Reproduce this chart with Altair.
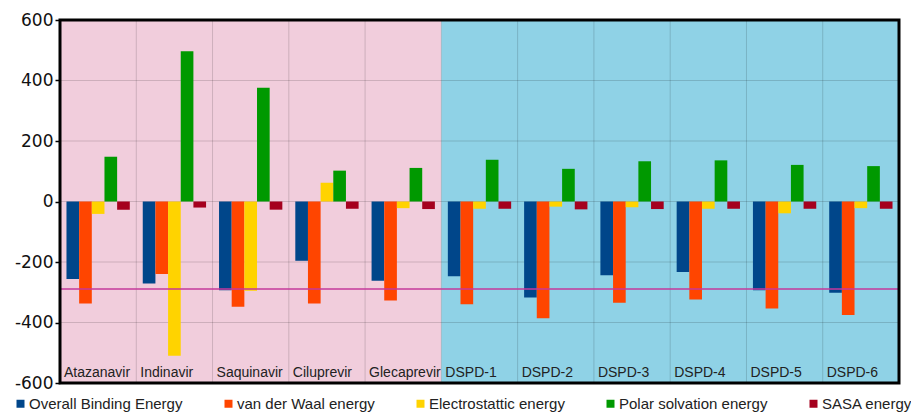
import altair as alt
import pandas as pd

drugs = ["Atazanavir", "Indinavir", "Saquinavir", "Ciluprevir", "Glecaprevir",
         "DSPD-1", "DSPD-2", "DSPD-3", "DSPD-4", "DSPD-5", "DSPD-6"]
series = ["Overall Binding Energy", "van der Waal energy", "Electrostattic energy",
          "Polar solvation energy", "SASA energy"]
overall = [-256, -271, -293, -196, -262, -247, -317, -244, -233, -293, -302]
vdw = [-337, -240, -348, -337, -327, -340, -386, -335, -324, -354, -375]
elec = [-41, -510, -295, 62, -22, -24, -17, -19, -24, -39, -22]
polar = [148, 497, 376, 102, 111, 138, 108, 133, 136, 121, 117]
sasa = [-27, -20, -27, -24, -25, -24, -26, -25, -24, -24, -24]
series_colors = ["#00468a", "#ff4500", "#ffd300", "#009900", "#a5001e"]

region_names = ["Reference drugs", "DSPD compounds"]
region_start = [0, 5]
region_end = [5, 11]
region_colors = ["#f1cddc", "#8fd2e6"]

y_ticks = [-600, -400, -200, 0, 200, 400, 600]
y_grid = [-400, -200, 0, 200, 400]
threshold = [-289]

# ---- tables built from the arrays ----
values = [overall, vdw, elec, polar, sasa]
rows = []
for s, vals in zip(series, values):
    for d, v in zip(drugs, vals):
        rows.append({"drug": d, "series": s, "value": v})
df = pd.DataFrame(rows)
bg_df = pd.DataFrame({"region": region_names, "start": region_start, "end": region_end})
bound_df = pd.DataFrame({"b": list(range(1, len(drugs)))})
label_df = pd.DataFrame({"drug": drugs, "idx": list(range(len(drugs)))})
grid_df = pd.DataFrame({"g": y_grid})
thr_df = pd.DataFrame({"t": threshold})

N = len(drugs)
qx = alt.Scale(domain=[0, N], nice=False, zero=False)
yscale = alt.Scale(domain=[-600, 600], nice=False)
FONT = "Liberation Sans"

bg = alt.Chart(bg_df).mark_rect().encode(
    x=alt.X("start:Q", scale=qx, axis=None),
    x2="end:Q",
    y=alt.Y(datum=-600, scale=yscale),
    y2=alt.Y2(datum=600),
    color=alt.Color("region:N", scale=alt.Scale(domain=region_names, range=region_colors), legend=None),
)

vgrid = alt.Chart(bound_df).mark_rule(stroke="#000000", strokeOpacity=0.15, strokeWidth=1).encode(
    x=alt.X("b:Q", scale=qx, axis=None),
    y=alt.Y(datum=-600, scale=yscale),
    y2=alt.Y2(datum=600),
)

hgrid = alt.Chart(grid_df).mark_rule(stroke="#000000", strokeOpacity=0.15, strokeWidth=1).encode(
    y=alt.Y("g:Q", scale=yscale),
)

bars = alt.Chart(df).mark_bar().encode(
    x=alt.X("drug:N", sort=drugs, axis=None,
            scale=alt.Scale(paddingInner=0.17, paddingOuter=0.085)),
    xOffset=alt.XOffset("series:N", sort=series,
                        scale=alt.Scale(paddingInner=0, paddingOuter=0)),
    y=alt.Y("value:Q", scale=yscale, title=None,
            axis=alt.Axis(values=y_ticks, labelExpr="datum.value", grid=False, domain=False,
                          labelFont="DejaVu Sans", labelFontSize=17, labelColor="#111111",
                          tickColor="#000000", tickSize=5, tickWidth=1.5, labelPadding=2)),
    color=alt.Color("series:N", sort=series,
                    scale=alt.Scale(domain=series, range=series_colors),
                    legend=alt.Legend(title=None, orient="none", direction="horizontal",
                                      legendX=-47, legendY=376, symbolType="square",
                                      symbolSize=64, symbolStrokeWidth=0,
                                      labelFont=FONT, labelFontSize=15, labelColor="#222222",
                                      labelOffset=1, columnPadding=38, padding=0,
                                      labelLimit=400)),
)

thr = alt.Chart(thr_df).mark_rule(color="#c4399b", strokeWidth=1.5).encode(
    y=alt.Y("t:Q", scale=yscale),
)

labels = alt.Chart(label_df).mark_text(
    align="left", baseline="alphabetic", dx=4, dy=-6,
    font=FONT, fontSize=14, color="#222222"
).encode(
    x=alt.X("idx:Q", scale=qx, axis=None),
    y=alt.Y(datum=-600, scale=yscale),
    text="drug:N",
)

border = alt.Chart(bg_df).transform_aggregate(
    s="min(start)", e="max(end)"
).mark_rect(fillOpacity=0, stroke="#000000", strokeWidth=3).encode(
    x=alt.X("s:Q", scale=qx, axis=None),
    x2="e:Q",
    y=alt.Y(datum=-600, scale=yscale),
    y2=alt.Y2(datum=600),
)

chart = alt.layer(bg, vgrid, hgrid, bars, thr, labels, border).resolve_scale(
    x="independent", color="independent"
).properties(
    width=839, height=363,
    autosize=alt.AutoSizeParams(type="none"),
    padding={"left": 52, "top": 12, "right": 12, "bottom": 30},
).configure_view(stroke=None)

chart.save("out.html", embed_options={"renderer": "svg", "actions": False})
